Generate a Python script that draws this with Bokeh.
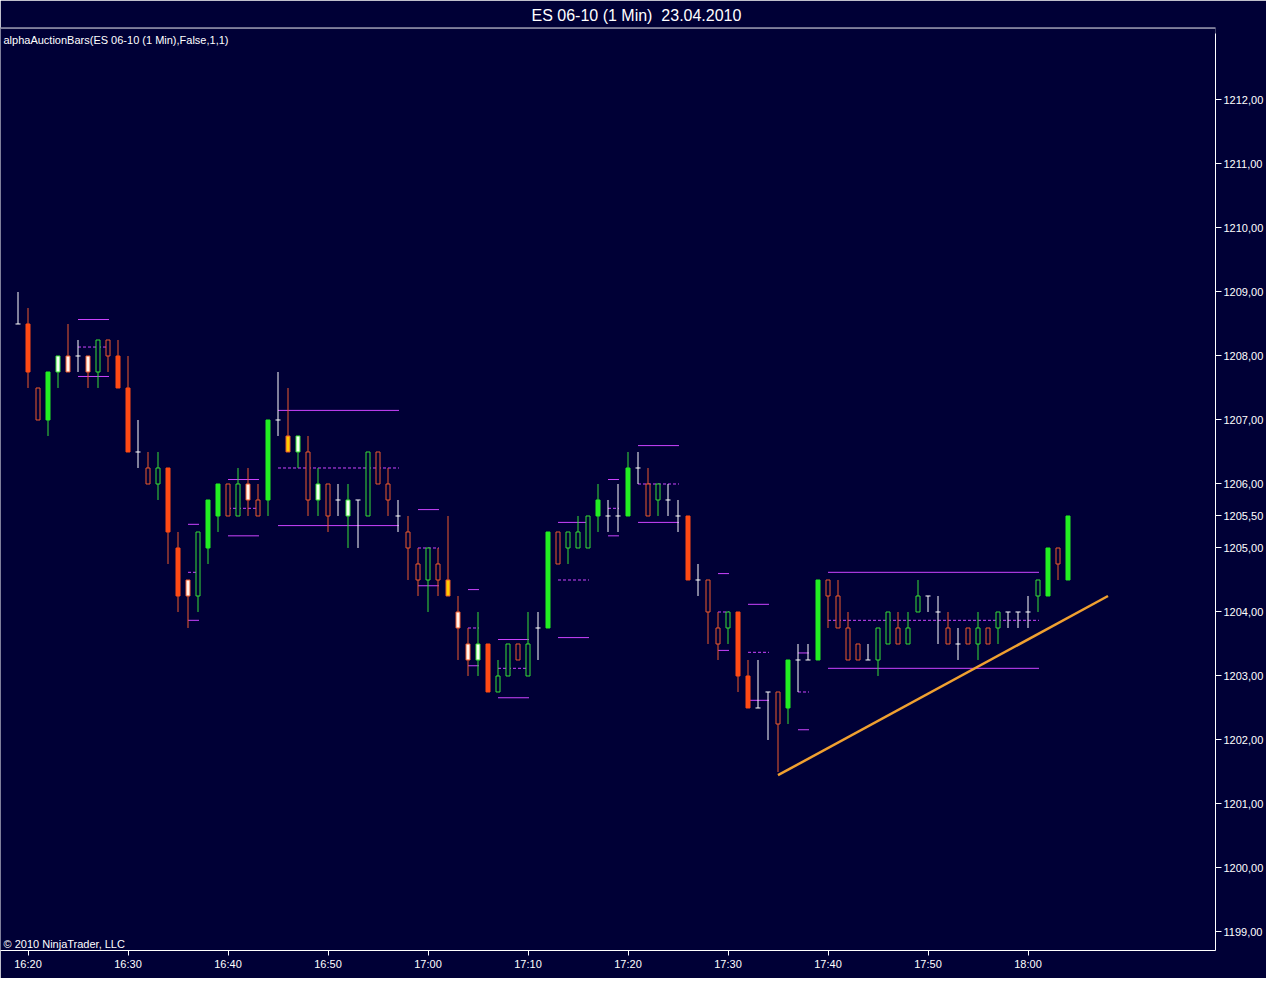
from bokeh.plotting import figure
from bokeh.models import (LinearAxis, FixedTicker, CustomJSTickFormatter,
                          Range1d, Label, ColumnDataSource, Span)
from bokeh.embed import file_html
from bokeh.resources import INLINE

# ---------------- data ----------------
title_text = "ES 06-10 (1 Min)\u00a0 23.04.2010"
indicator_text = "alphaAuctionBars(ES 06-10 (1 Min),False,1,1)"
copyright_text = "\u00a9 2010 NinjaTrader, LLC"

first_time = "16:19"   # one bar per minute from here
kinds = ["X", "D", "HO", "U", "WG", "WO", "X", "WO", "HG", "HO",
         "D", "D", "X", "HO", "HG", "D", "D", "WO", "HG", "U",
         "U", "HO", "HG", "WO", "HO", "U", "X", "YO", "WG", "HO",
         "WG", "HO", "X", "WG", "X", "HG", "HO", "HO", "X", "HO",
         "HO", "HG", "HO", "YO", "WO", "WO", "WG", "D", "HG", "HG",
         "HO", "HG", "X", "U", "HO", "HG", "HG", "HG", "U", "X",
         "X", "U", "X", "HO", "HG", "X", "X", "D", "X", "HO",
         "HO", "HG", "D", "D", "X", "X", "HO", "U", "X", "X",
         "U", "HO", "HO", "HO", "HO", "X", "HG", "HG", "HO", "HG",
         "HG", "X", "X", "HO", "X", "HO", "HG", "HO", "HG", "X",
         "X", "X", "HG", "U", "HO", "U"]
opens = [1208.5, 1208.5, 1207.5, 1207.0, 1207.75, 1208.0, 1208.0, 1208.0, 1207.75, 1208.25,
         1208.0, 1207.5, 1206.5, 1206.25, 1206.0, 1206.25, 1205.0, 1204.5, 1204.25, 1205.0,
         1205.5, 1206.0, 1205.5, 1206.0, 1205.75, 1205.75, 1207.0, 1206.75, 1206.5, 1206.5,
         1205.75, 1206.0, 1205.75, 1205.5, 1205.75, 1205.5, 1206.5, 1206.0, 1205.5, 1205.25,
         1204.75, 1204.5, 1204.75, 1204.5, 1204.0, 1203.5, 1203.25, 1203.5, 1202.75, 1203.0,
         1203.5, 1203.0, 1203.75, 1203.75, 1205.25, 1205.0, 1205.0, 1205.0, 1205.5, 1205.5,
         1205.5, 1205.5, 1206.25, 1206.0, 1205.75, 1205.75, 1205.5, 1205.5, 1204.5, 1204.5,
         1203.75, 1203.75, 1204.0, 1203.0, 1202.5, 1202.75, 1202.75, 1202.5, 1203.25, 1203.25,
         1203.25, 1204.5, 1204.25, 1203.75, 1203.5, 1203.25, 1203.25, 1203.5, 1203.75, 1203.5,
         1204.0, 1204.25, 1204.0, 1203.75, 1203.5, 1203.75, 1203.5, 1203.75, 1203.75, 1204.0,
         1204.0, 1204.0, 1204.25, 1204.25, 1205.0, 1204.5]
highs = [1209.0, 1208.75, 1207.5, 1207.75, 1208.0, 1208.5, 1208.25, 1208.0, 1208.25, 1208.25,
         1208.25, 1208.0, 1207.0, 1206.5, 1206.5, 1206.25, 1205.25, 1204.5, 1205.25, 1205.75,
         1206.0, 1206.0, 1206.25, 1206.25, 1206.0, 1207.0, 1207.75, 1207.5, 1206.75, 1206.75,
         1206.25, 1206.0, 1206.0, 1206.0, 1205.75, 1206.5, 1206.5, 1206.25, 1205.75, 1205.5,
         1205.0, 1205.0, 1205.0, 1205.5, 1204.25, 1203.75, 1204.0, 1203.5, 1203.25, 1203.5,
         1203.5, 1204.0, 1204.0, 1205.25, 1205.25, 1205.25, 1205.5, 1205.5, 1206.0, 1205.75,
         1206.0, 1206.5, 1206.5, 1206.25, 1206.0, 1206.0, 1205.75, 1205.5, 1204.75, 1204.5,
         1204.0, 1204.0, 1204.0, 1203.25, 1203.25, 1202.75, 1202.75, 1203.25, 1203.5, 1203.5,
         1204.5, 1204.5, 1204.5, 1204.0, 1203.5, 1203.5, 1203.75, 1204.0, 1204.0, 1204.0,
         1204.5, 1204.25, 1204.25, 1204.0, 1203.75, 1203.75, 1204.0, 1203.75, 1204.0, 1204.0,
         1204.0, 1204.25, 1204.5, 1205.0, 1205.0, 1205.5]
lows = [1208.5, 1207.5, 1207.0, 1206.75, 1207.5, 1207.75, 1207.75, 1207.5, 1207.5, 1207.75,
        1207.5, 1206.5, 1206.25, 1206.0, 1205.75, 1204.75, 1204.0, 1203.75, 1204.0, 1204.75,
        1205.25, 1205.5, 1205.5, 1205.5, 1205.5, 1205.5, 1206.75, 1206.5, 1206.25, 1205.5,
        1205.5, 1205.25, 1205.5, 1205.0, 1205.0, 1205.5, 1206.0, 1205.5, 1205.25, 1204.5,
        1204.25, 1204.0, 1204.25, 1204.25, 1203.25, 1203.0, 1203.0, 1202.75, 1202.75, 1203.0,
        1203.25, 1203.0, 1203.25, 1203.75, 1204.75, 1204.75, 1205.0, 1205.0, 1205.25, 1205.25,
        1205.25, 1205.5, 1206.0, 1205.5, 1205.5, 1205.5, 1205.25, 1204.5, 1204.25, 1203.5,
        1203.25, 1203.5, 1202.75, 1202.5, 1202.5, 1202.0, 1201.5, 1202.25, 1202.75, 1203.25,
        1203.25, 1203.75, 1203.75, 1203.25, 1203.25, 1203.25, 1203.0, 1203.5, 1203.5, 1203.5,
        1204.0, 1204.0, 1203.5, 1203.5, 1203.25, 1203.5, 1203.25, 1203.5, 1203.5, 1203.75,
        1203.75, 1203.75, 1204.0, 1204.25, 1204.5, 1204.5]
closes = [1208.5, 1207.75, 1207.0, 1207.75, 1208.0, 1207.75, 1208.0, 1207.75, 1208.25, 1208.0,
          1207.5, 1206.5, 1206.5, 1206.0, 1206.25, 1205.25, 1204.25, 1204.25, 1205.25, 1205.75,
          1206.0, 1205.5, 1206.0, 1205.75, 1205.5, 1207.0, 1207.0, 1206.5, 1206.75, 1205.75,
          1206.0, 1205.5, 1205.75, 1205.75, 1205.75, 1206.5, 1206.0, 1205.75, 1205.5, 1205.0,
          1204.5, 1205.0, 1204.5, 1204.25, 1203.75, 1203.25, 1203.5, 1202.75, 1203.0, 1203.5,
          1203.25, 1203.5, 1203.75, 1205.25, 1204.75, 1205.25, 1205.25, 1205.5, 1205.75, 1205.5,
          1205.5, 1206.25, 1206.25, 1205.5, 1206.0, 1205.75, 1205.5, 1204.5, 1204.5, 1204.0,
          1203.5, 1204.0, 1203.0, 1202.5, 1202.5, 1202.75, 1202.25, 1203.25, 1203.25, 1203.25,
          1204.5, 1204.25, 1203.75, 1203.25, 1203.25, 1203.25, 1203.75, 1204.0, 1203.5, 1203.75,
          1204.25, 1204.25, 1204.0, 1203.5, 1203.5, 1203.5, 1203.75, 1203.5, 1204.0, 1204.0,
          1204.0, 1204.0, 1204.5, 1205.0, 1204.75, 1205.5]

# auction levels: start bar, end bar, high (solid), mid (dashed), low (solid)
lvl_start = ["16:25", "16:36", "16:40", "16:45", "16:59", "17:04", "17:07",
             "17:13", "17:18", "17:21", "17:29", "17:32", "17:37", "17:40"]
lvl_end = ["16:28", "16:37", "16:43", "16:57", "17:01", "17:05", "17:10",
           "17:16", "17:19", "17:25", "17:30", "17:34", "17:38", "18:01"]
lvl_high = [1208.57, 1205.37, 1206.07, 1207.15, 1205.60, 1204.35, 1203.57,
            1205.40, 1206.07, 1206.60, 1204.60, 1204.12, 1203.36, 1204.62]
lvl_mid = [1208.14, 1204.62, 1205.62, 1206.25, 1205.00, 1203.75, 1203.12,
           1204.50, 1205.62, 1206.00, 1204.00, 1203.37, 1202.75, 1203.87]
lvl_low = [1207.68, 1203.87, 1205.19, 1205.35, 1204.41, 1203.16, 1202.66,
           1203.60, 1205.19, 1205.40, 1203.40, 1202.62, 1202.16, 1203.12]

trend_times = ["17:35", "18:08"]
trend_prices = [1201.45, 1204.25]

time_tick_labels = ["16:20", "16:30", "16:40", "16:50", "17:00", "17:10",
                    "17:20", "17:30", "17:40", "17:50", "18:00"]
price_ticks = [1199, 1200, 1201, 1202, 1203, 1204, 1205, 1206, 1207, 1208, 1209, 1210, 1211, 1212]

# ---------------- styles ----------------
BG = "#000036"
WHITE = "#FFFFFF"
GREEN_FILL = "#22EE22"
ORANGE_FILL = "#FF4A14"
ORANGE_LINE = "#EE5A2C"
GREEN_LINE = "#36E036"
MAGENTA = "#CC44FF"
TREND = "#F0A030"
FONT = "Liberation Sans"

style = {
    "D":  (ORANGE_FILL, ORANGE_FILL, ORANGE_LINE),
    "U":  (GREEN_FILL, GREEN_FILL, GREEN_LINE),
    "HO": (BG, ORANGE_LINE, ORANGE_LINE),
    "HG": (BG, GREEN_LINE, GREEN_LINE),
    "WO": ("#FFF2EC", ORANGE_LINE, ORANGE_LINE),
    "WG": ("#F2FFF2", GREEN_LINE, GREEN_LINE),
    "YO": ("#FFCC00", ORANGE_LINE, ORANGE_LINE),
}


def tmin(s):
    h, m = s.split(":")
    return int(h) * 60 + int(m) - 16 * 60


t0 = tmin(first_time)
times = [t0 + i for i in range(len(closes))]

# chart window geometry: 10 px per minute, 64 px per point
FW, FH = 1215, 923
TOP = 27
X0 = 17.25
X1 = X0 + FW / 10
Y1 = 1213.1328
Y0 = Y1 - FH / 64
PX_T = 0.1
PX_P = 1 / 64


def px_t(px):          # picture x -> time
    return X0 + px * PX_T


def px_p(py):          # picture y -> price
    return Y1 - (py - TOP) * PX_P


p = figure(frame_width=FW, frame_height=FH,
           x_range=Range1d(X0, X1), y_range=Range1d(Y0, Y1),
           output_backend="svg", toolbar_location=None,
           x_axis_location=None, y_axis_location=None,
           min_border_left=0, min_border_right=49, min_border_top=TOP, min_border_bottom=28,
           background_fill_color=BG, border_fill_color=BG, outline_line_color=None)
p.xgrid.visible = False
p.ygrid.visible = False

# title as the figure's own title, above the chart window
p.title.text = title_text
p.title.align = "left"
p.title.offset = 531
p.title.standoff = 8
p.title.text_color = WHITE
p.title.text_font = FONT
p.title.text_font_size = "16px"
p.title.text_font_style = "normal"

# auction levels
for s, e, hi, mi, lo in zip(lvl_start, lvl_end, lvl_high, lvl_mid, lvl_low):
    xs, xe = tmin(s), tmin(e) + 0.1
    p.segment(x0=[xs, xs], x1=[xe, xe], y0=[hi, lo], y1=[hi, lo], line_color=MAGENTA, line_width=1)
    p.segment(x0=[xs], x1=[xe], y0=[mi], y1=[mi], line_color=MAGENTA, line_width=1, line_dash="3 2")

# wicks
wick_col = [WHITE if k == "X" else style[k][2] for k in kinds]
p.segment(x0=times, x1=times, y0=lows, y1=highs, line_color=wick_col, line_width=1)

# doji ticks
dx = [t for t, k in zip(times, kinds) if k == "X"]
dc = [c for c, k in zip(closes, kinds) if k == "X"]
p.segment(x0=[t - 0.25 for t in dx], x1=[t + 0.25 for t in dx], y0=dc, y1=dc,
          line_color=WHITE, line_width=1)

# bodies
bt, btop, bbot, bfill, bline = [], [], [], [], []
for t, o, c, k in zip(times, opens, closes, kinds):
    if k == "X":
        continue
    bt.append(t)
    btop.append(max(o, c))
    bbot.append(min(o, c))
    bfill.append(style[k][0])
    bline.append(style[k][1])
src = ColumnDataSource(dict(t=bt, top=btop, bottom=bbot, fill=bfill, line=bline))
p.vbar(x="t", top="top", bottom="bottom", width=0.4, fill_color="fill", line_color="line",
       line_width=1, source=src)

# trend line
p.line([tmin(t) for t in trend_times], trend_prices, line_color=TREND, line_width=2.5)

# top border line
p.add_layout(Span(location=Y1 - 0.5 * PX_P, dimension="width", line_color=WHITE, line_width=1))

# axes
tick_pos = [tmin(s) for s in time_tick_labels]
xaxis = LinearAxis(ticker=FixedTicker(ticks=tick_pos),
                   major_label_overrides={t: s for t, s in zip(tick_pos, time_tick_labels)})
xaxis.axis_line_color = WHITE
xaxis.major_tick_line_color = WHITE
xaxis.major_tick_out = 5
xaxis.major_tick_in = 0
xaxis.minor_tick_line_color = None
xaxis.major_label_text_color = WHITE
xaxis.major_label_text_font = FONT
xaxis.major_label_text_font_size = "11px"
xaxis.major_label_standoff = 2
p.add_layout(xaxis, "below")

# price axis; the last traded price is marked on it as well
yaxis = LinearAxis(ticker=FixedTicker(ticks=price_ticks + [closes[-1]]),
                   formatter=CustomJSTickFormatter(code="return tick.toFixed(2).replace('.', ',');"),
                   bounds=(Y0, px_p(33)))
yaxis.axis_line_color = WHITE
yaxis.major_tick_line_color = WHITE
yaxis.major_tick_out = 6
yaxis.major_tick_in = 0
yaxis.minor_tick_line_color = None
yaxis.major_label_text_color = WHITE
yaxis.major_label_text_font = FONT
yaxis.major_label_text_font_size = "11px"
yaxis.major_label_standoff = 2
p.add_layout(yaxis, "right")

# texts inside the chart window
p.add_layout(Label(x=px_t(3), y=px_p(39), text=indicator_text, text_align="left",
                   text_baseline="middle", text_color=WHITE, text_font=FONT, text_font_size="11px"))
p.add_layout(Label(x=px_t(3), y=px_p(943), text=copyright_text, text_align="left",
                   text_baseline="middle", text_color=WHITE, text_font=FONT, text_font_size="11px"))

open("out.html", "w").write(file_html(p, INLINE))
